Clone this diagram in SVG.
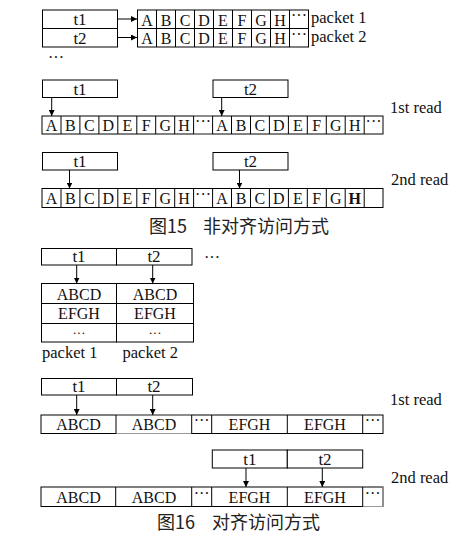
<svg xmlns="http://www.w3.org/2000/svg" width="465" height="543" viewBox="0 0 465 543">
<style>
.bx{fill:#fff;stroke:#000;stroke-width:1}
.ln{fill:none;stroke:#000;stroke-width:1}
.gr{fill:none;stroke:#999;stroke-width:1.2}
.c{font-family:"Liberation Serif",serif;font-size:16px;fill:#111;text-anchor:middle}
.d{font-family:"Liberation Serif",serif;font-size:13px;fill:#111;text-anchor:middle}
.t{font-family:"Liberation Serif",serif;font-size:17px;fill:#111;text-anchor:middle}
.l{font-family:"Liberation Serif",serif;font-size:16.5px;fill:#111}
.cap{font-family:"Noto Sans CJK SC",sans-serif;font-size:18px;fill:#222}
.ar{fill:none;stroke:#000;stroke-width:1;marker-end:url(#ah)}
</style>
<defs>
<marker id="ah" markerUnits="userSpaceOnUse" markerWidth="6" markerHeight="6" refX="6" refY="3" orient="auto">
<path d="M0,0 L6,3 L0,6 z" fill="#000"/>
</marker>
</defs>

<!-- Section 1: packets -->
<g id="s1-threads">
<rect class="bx" x="42.5" y="10" width="75" height="18.5"/>
<rect class="bx" x="42.5" y="28.5" width="75" height="18.5"/>
<text class="t" x="80" y="25">t1</text>
<text class="t" x="80" y="43.5">t2</text>
</g>
<g id="s1-packet1">
<rect class="bx" x="137.5" y="10" width="171" height="18.5"/>
<path class="ln" d="M156.5,10V28.5M175.5,10V28.5M194.5,10V28.5M213.5,10V28.5M232.5,10V28.5M251.5,10V28.5M270.5,10V28.5M289.5,10V28.5"/>
<g class="c"><text x="147" y="25.5">A</text><text x="166" y="25.5">B</text><text x="185" y="25.5">C</text><text x="204" y="25.5">D</text><text x="223" y="25.5">E</text><text x="242" y="25.5">F</text><text x="261" y="25.5">G</text><text x="280" y="25.5">H</text><text x="299" y="21">···</text></g>
<text class="l" x="311" y="23">packet 1</text>
</g>
<g id="s1-packet2">
<rect class="bx" x="137.5" y="28.5" width="171" height="18.5"/>
<path class="ln" d="M156.5,28.5V47M175.5,28.5V47M194.5,28.5V47M213.5,28.5V47M232.5,28.5V47M251.5,28.5V47M270.5,28.5V47M289.5,28.5V47"/>
<g class="c"><text x="147" y="44">A</text><text x="166" y="44">B</text><text x="185" y="44">C</text><text x="204" y="44">D</text><text x="223" y="44">E</text><text x="242" y="44">F</text><text x="261" y="44">G</text><text x="280" y="44">H</text><text x="299" y="39.5">···</text></g>
<text class="l" x="311" y="41.5">packet 2</text>
</g>
<text class="c" x="56" y="63">···</text>

<!-- Section 2: 1st read unaligned -->
<g id="s2-t1"><rect class="bx" x="42.5" y="80" width="75" height="17.5"/><text class="t" x="80" y="95">t1</text></g>
<g id="s2-t2"><rect class="bx" x="213" y="80" width="75" height="17.5"/><text class="t" x="250.5" y="95">t2</text></g>
<g id="s2-row">
<rect class="bx" x="42" y="116" width="341" height="18"/>
<path class="gr" d="M193.6,116H212.5M193.6,134H212.5"/>
<path class="ln" d="M61,116V134M79.9,116V134M98.9,116V134M117.8,116V134M136.8,116V134M155.7,116V134M174.7,116V134M193.6,116V134M212.6,116V134M231.5,116V134M250.5,116V134M269.4,116V134M288.4,116V134M307.3,116V134M326.3,116V134M345.2,116V134M364.2,116V134"/>
<g class="c"><text x="51.5" y="131">A</text><text x="70.4" y="131">B</text><text x="89.4" y="131">C</text><text x="108.3" y="131">D</text><text x="127.3" y="131">E</text><text x="146.2" y="131">F</text><text x="165.2" y="131">G</text><text x="184.1" y="131">H</text><text x="203.1" y="127">···</text><text x="222" y="131">A</text><text x="241" y="131">B</text><text x="259.9" y="131">C</text><text x="278.9" y="131">D</text><text x="297.8" y="131">E</text><text x="316.8" y="131">F</text><text x="335.7" y="131">G</text><text x="354.7" y="131">H</text><text x="373.6" y="127">···</text></g>
</g>
<text class="l" x="390" y="113">1st read</text>

<!-- Section 3: 2nd read unaligned -->
<g id="s3-t1"><rect class="bx" x="42.5" y="152.5" width="75" height="17.5"/><text class="t" x="80" y="167">t1</text></g>
<g id="s3-t2"><rect class="bx" x="213" y="152.5" width="75" height="17.5"/><text class="t" x="250.5" y="167">t2</text></g>
<g id="s3-row">
<rect class="bx" x="42" y="188.5" width="341" height="19"/>
<path class="ln" d="M61,188.5V207.5M79.9,188.5V207.5M98.9,188.5V207.5M117.8,188.5V207.5M136.8,188.5V207.5M155.7,188.5V207.5M174.7,188.5V207.5M193.6,188.5V207.5M212.6,188.5V207.5M231.5,188.5V207.5M250.5,188.5V207.5M269.4,188.5V207.5M288.4,188.5V207.5M307.3,188.5V207.5M326.3,188.5V207.5M345.2,188.5V207.5M364.2,188.5V207.5"/>
<g class="c"><text x="51.5" y="204">A</text><text x="70.4" y="204">B</text><text x="89.4" y="204">C</text><text x="108.3" y="204">D</text><text x="127.3" y="204">E</text><text x="146.2" y="204">F</text><text x="165.2" y="204">G</text><text x="184.1" y="204">H</text><text x="203.1" y="200">···</text><text x="222" y="204">A</text><text x="241" y="204">B</text><text x="259.9" y="204">C</text><text x="278.9" y="204">D</text><text x="297.8" y="204">E</text><text x="316.8" y="204">F</text><text x="335.7" y="204">G</text><text x="354.7" y="204" font-weight="bold">H</text></g>
</g>
<text class="l" x="391" y="185">2nd read</text>
<text class="cap" x="149" y="233">图15<tspan x="203">非对齐访问方式</tspan></text>

<!-- Section 4: aligned layout -->
<g id="s4-threads">
<rect class="bx" x="41.5" y="248.5" width="75" height="16.5"/>
<rect class="bx" x="116.5" y="248.5" width="75.5" height="16.5"/>
<text class="t" x="79" y="262">t1</text>
<text class="t" x="154" y="262">t2</text>
</g>
<text class="c" x="212" y="263">···</text>
<g id="s4-packet1">
<rect class="bx" x="41.5" y="283.5" width="75" height="58.5"/>
<path class="ln" d="M41.5,303.5H116.5M41.5,323.5H116.5"/>
<g class="c"><text x="79" y="299.5">ABCD</text><text x="79" y="319">EFGH</text></g>
<text class="d" x="79" y="337">···</text>
<text class="l" x="42" y="358">packet 1</text>
</g>
<g id="s4-packet2">
<rect class="bx" x="116.5" y="283.5" width="77" height="58.5"/>
<path class="ln" d="M116.5,303.5H193.5M116.5,323.5H193.5"/>
<g class="c"><text x="155" y="299.5">ABCD</text><text x="155" y="319">EFGH</text></g>
<text class="d" x="155" y="337">···</text>
<text class="l" x="122.5" y="358">packet 2</text>
</g>

<!-- Section 5: 1st read aligned -->
<g id="s5-threads">
<rect class="bx" x="41.5" y="378.5" width="75" height="16.5"/>
<rect class="bx" x="116.5" y="378.5" width="76" height="16.5"/>
<text class="t" x="79" y="392">t1</text>
<text class="t" x="154" y="392">t2</text>
</g>
<g id="s5-row">
<rect class="bx" x="41" y="415" width="342" height="18.5"/>
<path class="gr" d="M116,415H191.5M116,433.5H191.5"/>
<path class="ln" d="M116,415V433.5M191.7,415V433.5M211.7,415V433.5M287.3,415V433.5M362.7,415V433.5"/>
<g class="c"><text x="78.5" y="430">ABCD</text><text x="154" y="430">ABCD</text><text x="201.7" y="426">···</text><text x="249.5" y="430">EFGH</text><text x="325" y="430">EFGH</text><text x="372.7" y="426">···</text></g>
</g>
<text class="l" x="390" y="405">1st read</text>

<!-- Section 6: 2nd read aligned -->
<g id="s6-threads">
<rect class="bx" x="212.3" y="450" width="75" height="18"/>
<rect class="bx" x="287.3" y="450" width="75.4" height="18"/>
<text class="t" x="249.8" y="464.5">t1</text>
<text class="t" x="325" y="464.5">t2</text>
</g>
<g id="s6-row">
<rect class="bx" x="41" y="487" width="342" height="19.5"/>
<path class="gr" d="M362.7,506.5H383M383,487V506.5"/>
<path class="ln" d="M115.7,487V506.5M191.7,487V506.5M211.7,487V506.5M287.3,487V506.5M362.7,487V506.5"/>
<g class="c"><text x="78.5" y="502.5">ABCD</text><text x="154" y="502.5">ABCD</text><text x="201.7" y="498.5">···</text><text x="249.5" y="502.5">EFGH</text><text x="325" y="502.5">EFGH</text><text x="372.7" y="498.5">···</text></g>
</g>
<text class="l" x="391" y="483">2nd read</text>
<text class="cap" x="157" y="529">图16<tspan x="212">对齐访问方式</tspan></text>

<!-- Connectors -->
<g id="connectors">
<path class="ar" d="M117.5,19H137"/>
<path class="ar" d="M117.5,37.5H137"/>
<path class="ar" d="M51.7,97.5V116"/>
<path class="ar" d="M221.7,97.5V116"/>
<path class="ar" d="M69.5,170V188.5"/>
<path class="ar" d="M239.5,170V188.5"/>
<path class="ar" d="M76.7,265V283.5"/>
<path class="ar" d="M152.7,265V283.5"/>
<path class="ar" d="M76.7,395V415"/>
<path class="ar" d="M152.7,395V415"/>
<path class="ar" d="M246,468V487"/>
<path class="ar" d="M322.3,468V487"/>
</g>
</svg>
